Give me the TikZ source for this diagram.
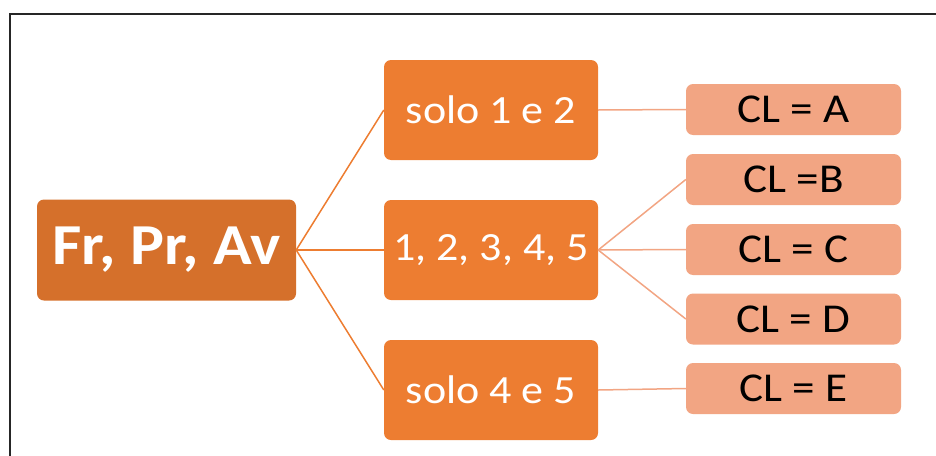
\documentclass[tikz,border=0pt]{standalone}
\usepackage{fontspec}
\setmainfont{Carlito}[FakeStretch=1.1]
\definecolor{rootfill}{HTML}{D5702B}
\definecolor{midfill}{HTML}{ED7D31}
\definecolor{leaffill}{HTML}{F2A583}
\begin{document}
\begin{tikzpicture}[x=1pt,y=-1pt,
  box/.style={rectangle, rounded corners=7pt, inner sep=0pt, draw=none},
  rootbox/.style={box, fill=rootfill, minimum width=259pt, minimum height=101pt,
    text=white, font=\fontsize{58}{60}\selectfont\bfseries},
  midbox/.style={box, fill=midfill, minimum width=214pt, minimum height=100pt,
    text=white, font=\fontsize{40}{42}\selectfont},
  leafbox/.style={box, fill=leaffill, minimum width=215pt, minimum height=51pt,
    text=black, font=\fontsize{41}{42}\selectfont},
  link/.style={draw=midfill, line width=1.5pt},
  leaflink/.style={draw=leaffill, line width=1.5pt}]
  \useasboundingbox (0,0) rectangle (936,455);
  % frame, running off the right and bottom edges
  \draw[line width=2pt, black!85] (9.5,460) -- (9.5,14) -- (940,14);

  \node[rootbox] (root) at (166.5,250) {Fr, Pr, Av};
  \node[midbox] (m1) at (491,110) {solo 1 e 2};
  \node[midbox] (m2) at (491,250) {1, 2, 3, 4, 5};
  \node[midbox] (m3) at (491,390) {solo 4 e 5};

  \node[leafbox] (a) at (793.5,109.5) {CL = A};
  \node[leafbox] (b) at (793.5,179.5) {CL =B};
  \node[leafbox] (c) at (793.5,249.5) {CL = C};
  \node[leafbox] (d) at (793.5,319) {CL = D};
  \node[leafbox] (e) at (793.5,388.5) {CL = E};

  \draw[link] (root.east) -- (m1.west);
  \draw[link] (root.east) -- (m2.west);
  \draw[link] (root.east) -- (m3.west);

  \draw[leaflink] (m1.east) -- (a.west);
  \draw[leaflink] (m2.east) -- (b.west);
  \draw[leaflink] (m2.east) -- (c.west);
  \draw[leaflink] (m2.east) -- (d.west);
  \draw[leaflink] (m3.east) -- (e.west);
\end{tikzpicture}
\end{document}
